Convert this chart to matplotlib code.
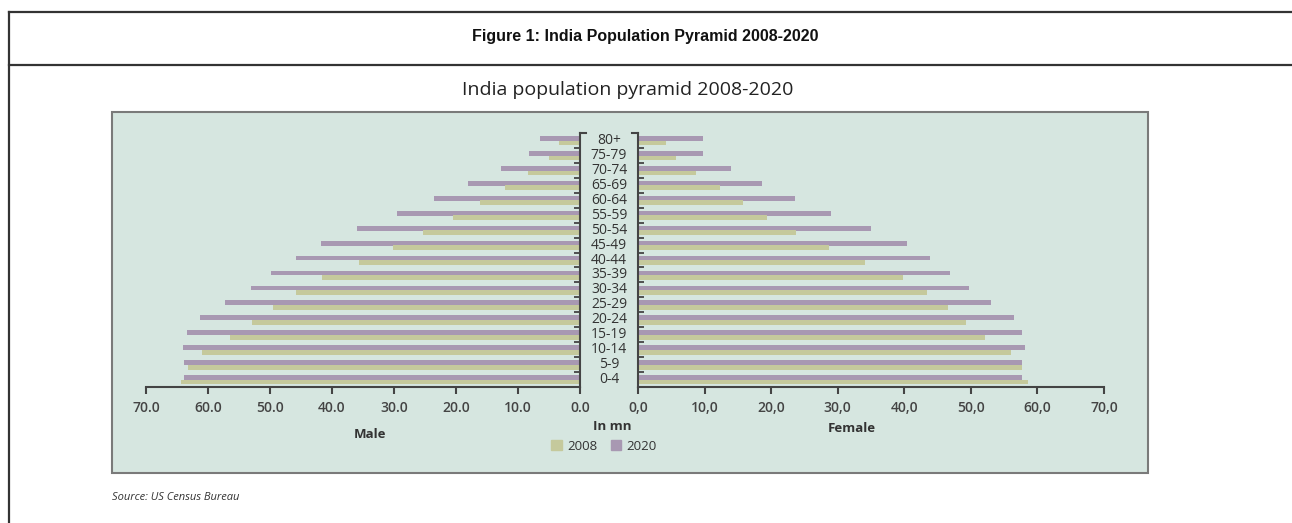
import matplotlib
matplotlib.use('Agg')
import matplotlib.pyplot as plt
import matplotlib.transforms as mtransforms
from matplotlib.lines import Line2D
from matplotlib.patches import Rectangle, Patch

# Age groups, bottom to top
age_groups = ['0-4', '5-9', '10-14', '15-19', '20-24', '25-29', '30-34', '35-39',
              '40-44', '45-49', '50-54', '55-59', '60-64', '65-69', '70-74', '75-79', '80+']

# Population in millions
male_2008 = [64.4, 63.2, 61.0, 56.5, 52.9, 49.5, 45.8, 41.6, 35.6, 30.2, 25.3, 20.5, 16.1, 12.1, 8.4, 5.0, 3.4]
male_2020 = [63.9, 63.9, 64.0, 63.4, 61.3, 57.3, 53.1, 49.8, 45.8, 41.8, 36.0, 29.5, 23.5, 18.1, 12.7, 8.2, 6.5]
female_2008 = [58.6, 57.7, 56.0, 52.1, 49.3, 46.5, 43.4, 39.8, 34.1, 28.7, 23.7, 19.4, 15.7, 12.3, 8.7, 5.7, 4.2]
female_2020 = [57.7, 57.7, 58.1, 57.7, 56.5, 53.0, 49.7, 46.9, 43.8, 40.4, 35.0, 29.0, 23.6, 18.6, 14.0, 9.8, 9.8]

x_ticks = [0, 10, 20, 30, 40, 50, 60, 70]
male_tick_labels = ['0.0', '10.0', '20.0', '30.0', '40.0', '50.0', '60.0', '70.0']
female_tick_labels = ['0,0', '10,0', '20,0', '30,0', '40,0', '50,0', '60,0', '70,0']

c2008 = '#c5c99c'
c2020 = '#a898b2'
panel_bg = '#d6e6e0'
txt = '#333333'
chart_font = ['Open Sans', 'DejaVu Sans']

W, H = 1292, 523
fig = plt.figure(figsize=(W / 100, H / 100), dpi=100)


def fx(px):
    return px / W


def fy(py):
    return 1 - py / H


# outer table frame
for seg in [([9, W], [12, 12]), ([9, W], [65, 65]), ([9, 9], [12, H])]:
    fig.add_artist(Line2D([fx(v) for v in seg[0]], [fy(v) for v in seg[1]],
                          color='#333333', lw=1.6))

fig.text(fx(645), fy(37), 'Figure 1: India Population Pyramid 2008-2020',
         ha='center', va='center', fontsize=11.5, fontweight='bold',
         family=['Liberation Sans', 'DejaVu Sans'], color='#111111')

# chart panel
fig.add_artist(Rectangle((fx(112), fy(473)), fx(1148) - fx(112), fy(112) - fy(473),
                         transform=fig.transFigure, facecolor=panel_bg,
                         edgecolor='#7a7a7a', lw=1.5, zorder=0))
fig.text(fx(628), fy(90), 'India population pyramid 2008-2020', ha='center', va='center',
         fontsize=14, family=chart_font, color='#222222')

ax_m = fig.add_axes([fx(146), fy(387), fx(580) - fx(146), fy(133) - fy(387)])
ax_f = fig.add_axes([fx(638), fy(387), fx(1104) - fx(638), fy(133) - fy(387)])

ypos = list(range(len(age_groups)))
bh = 0.32
ax_m.barh([y + 0.13 for y in ypos], male_2020, height=bh, color=c2020, label='2020')
ax_m.barh([y - 0.17 for y in ypos], male_2008, height=bh, color=c2008, label='2008')
ax_f.barh([y + 0.13 for y in ypos], female_2020, height=bh, color=c2020)
ax_f.barh([y - 0.17 for y in ypos], female_2008, height=bh, color=c2008)

bounds = [k + 0.5 for k in range(len(age_groups) - 1)]
for ax, labels, side in [(ax_m, male_tick_labels, 'right'), (ax_f, female_tick_labels, 'left')]:
    ax.set_facecolor('none')
    ax.set_xlim(0, 70)
    ax.set_ylim(-0.5, len(age_groups) - 0.5)
    for s in ax.spines.values():
        s.set_visible(False)
    ax.spines['bottom'].set_visible(True)
    ax.spines[side].set_visible(True)
    for s in ['bottom', side]:
        ax.spines[s].set_color('#444444')
        ax.spines[s].set_linewidth(1.5)
    ax.set_xticks(x_ticks)
    ax.set_xticklabels(labels)
    ax.tick_params(axis='x', direction='out', length=5, width=1.5, color='#444444',
                   pad=5, labelsize=10, labelcolor='#444444')
    for t in ax.get_xticklabels():
        t.set_family(chart_font)
        t.set_fontweight('semibold')
    ax.yaxis.set_ticks_position(side)
    ax.set_yticks(bounds)
    ax.set_yticklabels([])
    ax.tick_params(axis='y', direction='in', length=4, width=1.3, color='#444444')

ax_m.invert_xaxis()

# top bracket ends of the two central lines
ax_m.plot([1, 1 + 6 / 434], [1, 1], transform=ax_m.transAxes, color='#444444',
          lw=1.5, clip_on=False)
ax_f.plot([0, -6 / 466], [1, 1], transform=ax_f.transAxes, color='#444444',
          lw=1.5, clip_on=False)

# age group labels between the two axes
trans = mtransforms.blended_transform_factory(fig.transFigure, ax_m.transData)
for y, lab in zip(ypos, age_groups):
    ax_m.text(fx(609), y, lab, transform=trans, ha='center', va='center',
              fontsize=10, family=chart_font, color=txt)

fig.text(fx(370), fy(435), 'Male', ha='center', va='center', fontsize=9.5,
         fontweight='bold', family=chart_font, color=txt)
fig.text(fx(612), fy(427), 'In mn', ha='center', va='center', fontsize=9.5,
         fontweight='bold', family=chart_font, color=txt)
fig.text(fx(852), fy(429), 'Female', ha='center', va='center', fontsize=9.5,
         fontweight='bold', family=chart_font, color=txt)

handles = [Patch(color=c2008, label='2008'), Patch(color=c2020, label='2020')]
leg = fig.legend(handles=handles, loc='center', bbox_to_anchor=(fx(604), fy(446)),
                 ncol=2, frameon=False, handlelength=0.8, handleheight=0.8,
                 handletextpad=0.4, columnspacing=1.0,
                 prop={'family': chart_font, 'size': 9.5})
for t in leg.get_texts():
    t.set_color(txt)

fig.text(fx(112), fy(498), 'Source: US Census Bureau', ha='left', va='center',
         fontsize=8, style='italic', family=chart_font, color=txt)

fig.savefig('out.png', dpi=100)
